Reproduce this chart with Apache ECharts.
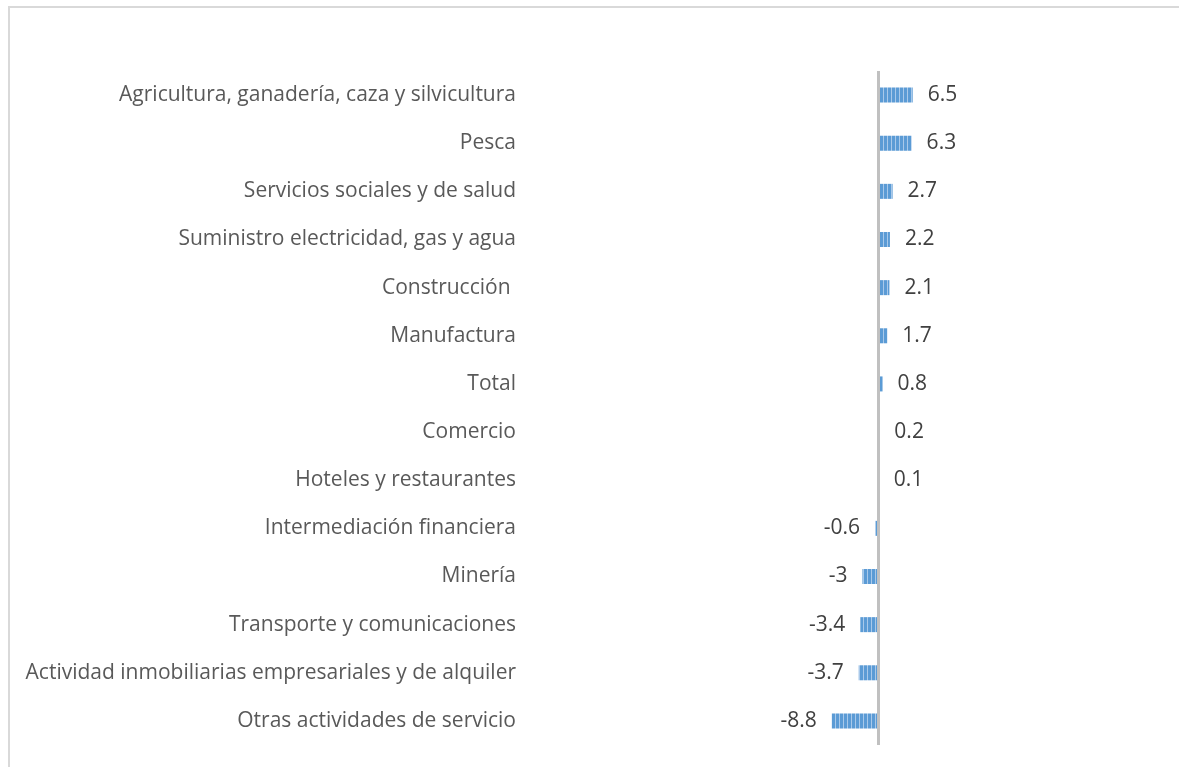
<!DOCTYPE html>
<html>
<head>
<meta charset="utf-8">
<script src="https://cdn.jsdelivr.net/npm/echarts@6/dist/echarts.min.js"></script>
<style>
html,body{margin:0;padding:0;background:#fff;}
#c{width:1179px;height:767px;}
</style>
</head>
<body>
<div id="c"></div>
<script>
const categories = [
  "Agricultura, ganadería, caza y silvicultura",
  "Pesca",
  "Servicios sociales y de salud",
  "Suministro electricidad, gas y agua",
  "Construcción ",
  "Manufactura",
  "Total",
  "Comercio",
  "Hoteles y restaurantes",
  "Intermediación financiera",
  "Minería",
  "Transporte y comunicaciones",
  "Actividad inmobiliarias empresariales y de alquiler",
  "Otras actividades de servicio"
];
const values = [6.5, 6.3, 2.7, 2.2, 2.1, 1.7, 0.8, 0.2, 0.1, -0.6, -3, -3.4, -3.7, -8.8];

// striped fill pattern
const pc = document.createElement('canvas');
pc.width = 4; pc.height = 4;
const pctx = pc.getContext('2d');
pctx.fillStyle = '#5b9bd5';
pctx.fillRect(0, 0, 4, 4);
pctx.fillStyle = '#a9c9ea';
pctx.fillRect(3, 0, 1, 4);

const chart = echarts.init(document.getElementById('c'));
const font = '"Open Sans", "Liberation Sans", sans-serif';
chart.setOption({
  animation: false,
  backgroundColor: '#fff',
  graphic: [{
    type: 'rect', silent: true, z: -1,
    shape: {x: 9, y: 7, width: 1300, height: 900},
    style: {fill: 'none', stroke: '#d9d9d9', lineWidth: 2}
  }],
  grid: {left: 524, right: 31, top: 71, bottom: 22, containLabel: false},
  xAxis: {
    type: 'value', min: -67, max: 51, show: false,
    splitLine: {show: false}
  },
  yAxis: {
    type: 'category', data: categories, inverse: true,
    axisLine: {show: false, onZero: false},
    axisTick: {show: false},
    axisLabel: {
      color: '#595959', fontSize: 21, fontFamily: font, margin: 8
    }
  },
  series: [{
    type: 'bar',
    data: values.map(v => v < 0 ? {value: v, label: {position: 'left'}} : v),
    barWidth: 15,
    itemStyle: {color: {image: pc, repeat: 'repeat'}},
    label: {
      show: true,
      position: 'right',
      distance: 15,
      color: '#404040',
      fontSize: 21,
      fontFamily: font,
      formatter: p => String(p.value)
    },
    markLine: {
      silent: true,
      symbol: ['none', 'none'],
      label: {show: false},
      lineStyle: {color: '#c0c0c0', width: 3, type: 'solid'},
      data: [{xAxis: 0}]
    }
  }]
});
</script>
</body>
</html>
